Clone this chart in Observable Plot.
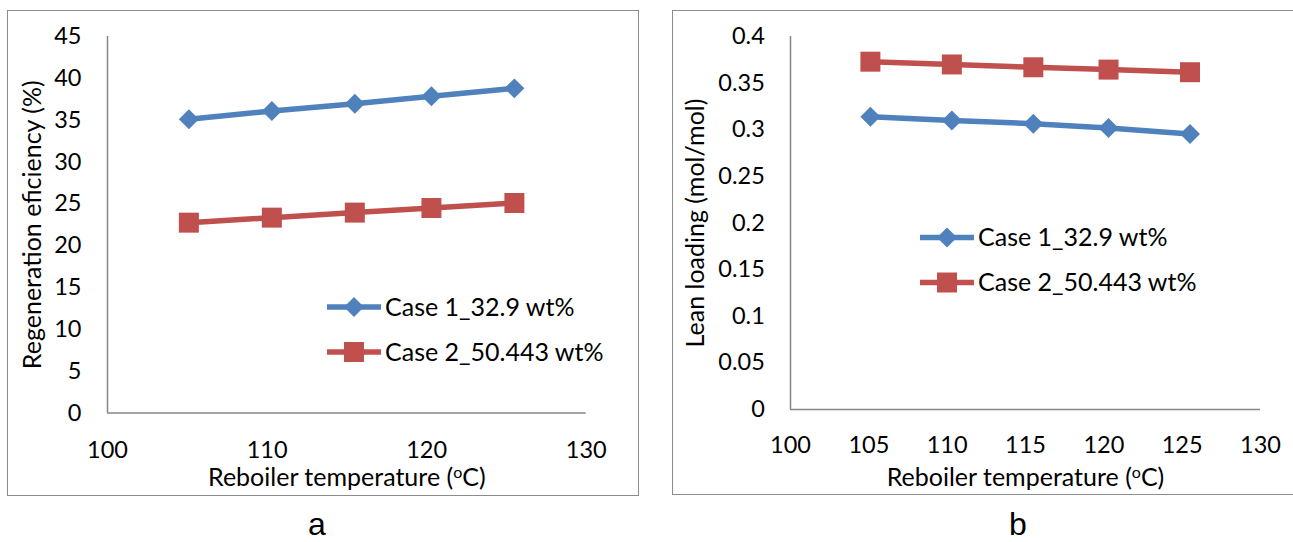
<!DOCTYPE html>
<html>
<head>
<meta charset="utf-8">
<script src="https://cdn.jsdelivr.net/npm/d3@7"></script>
<script src="https://cdn.jsdelivr.net/npm/@observablehq/plot@0.6"></script>
<style>
  html, body { margin: 0; padding: 0; background: #fff; }
  body { width: 1293px; height: 542px; position: relative; overflow: hidden; font-family: Lato, sans-serif; }
  .panel { position: absolute; box-sizing: border-box; border: 1.5px solid #8c8c8c; background: #fff; }
  .chart { position: absolute; top: 0; }
  .chart svg { max-width: none; overflow: visible; }
  .cap { position: absolute; font-family: "Liberation Sans", Arial, sans-serif; font-size: 32px; line-height: 26px; height: 26px; color: #000; width: 60px; text-align: center; }
</style>
</head>
<body>
<div class="panel" style="left:7px; top:10px; width:632px; height:486px;"></div>
<div class="panel" style="left:672px; top:10px; width:640px; height:485px;"></div>
<div id="chartA" class="chart" style="left:0px;"></div>
<div id="chartB" class="chart" style="left:650px;"></div>
<div class="cap" style="left:287px; top:511px;">a</div>
<div class="cap" style="left:988px; top:511px;">b</div>
<script>
// ---- data ----
const temps = [105.1, 110.3, 115.5, 120.3, 125.5];
const seriesNames = ["Case 1_32.9 wt%", "Case 2_50.443 wt%"];
const seriesColors = ["#4F81BD", "#C0504D"];
const effCase1 = [35.1, 36.1, 36.95, 37.85, 38.8];
const effCase2 = [22.75, 23.35, 23.95, 24.5, 25.1];
const leanCase1 = [0.314, 0.31, 0.3065, 0.302, 0.2955];
const leanCase2 = [0.373, 0.37, 0.367, 0.3645, 0.3617];
const xTicksA = [100, 110, 120, 130];
const xTicksB = [100, 105, 110, 115, 120, 125, 130];
const yTicksA = [0, 5, 10, 15, 20, 25, 30, 35, 40, 45];
const yTicksB = [0, 0.05, 0.1, 0.15, 0.2, 0.25, 0.3, 0.35, 0.4];
const xTitle = "Reboiler temperature (oC)";
const yTitleA = "Regeneration eficiency (%)";
const yTitleB = "Lean loading (mol/mol)";

function rowsOf(a, b) {
  const rows = [];
  temps.forEach((t, i) => rows.push({t, v: a[i], s: seriesNames[0]}));
  temps.forEach((t, i) => rows.push({t, v: b[i], s: seriesNames[1]}));
  return rows;
}

const axisGray = "#868686";
const fsTick = 23.5;
const fsTitle = 25;

function makeChart(opt) {
  const rows = rowsOf(opt.a, opt.b);
  const svg = Plot.plot({
    width: opt.width, height: 542,
    marginLeft: opt.ml, marginRight: opt.mr, marginTop: opt.mt, marginBottom: opt.mb,
    x: {domain: [100, 130], axis: null},
    y: {domain: opt.ydomain, axis: null},
    color: {domain: seriesNames, range: seriesColors},
    style: {fontFamily: "Lato, sans-serif", fontSize: fsTick + "px", background: "transparent", color: "#000", overflow: "visible"},
    marks: [
      Plot.ruleX([100], {stroke: axisGray, strokeWidth: 1.5}),
      Plot.ruleY([0], {stroke: axisGray, strokeWidth: 1.5}),
      Plot.axisX({ticks: opt.xticks, tickSize: 0, tickPadding: opt.xpad, label: null, fontSize: fsTick, fill: "#000", tickFormat: d => String(d)}),
      Plot.axisY({ticks: opt.yticks, tickSize: 0, tickPadding: opt.ypad, label: null, fontSize: fsTick, fill: "#000", tickFormat: d => String(+d.toFixed(2))}),
      Plot.line(rows, {x: "t", y: "v", z: "s", stroke: "s", strokeWidth: 5.5}),
      Plot.dot(rows.filter(d => d.s === seriesNames[0]), {x: "t", y: "v", symbol: "diamond2", r: 9.0, fill: "s", stroke: null}),
      Plot.dot(rows.filter(d => d.s === seriesNames[1]), {x: "t", y: "v", symbol: "square", r: 11.28, fill: "s", stroke: null}),
      Plot.text([opt.ytitle], {text: d => d, frameAnchor: "left", dx: opt.ytdx, rotate: -90, textAnchor: "middle", lineAnchor: "middle", fontSize: fsTitle, fill: "#000"}),
      Plot.text([xTitle], {text: d => d, frameAnchor: "bottom", dy: opt.xtdy, textAnchor: "middle", lineAnchor: "middle", fontSize: fsTitle, fill: "#000"})
    ]
  });
  // superscript "o" in the x title
  svg.querySelectorAll("text").forEach(t => {
    if (t.textContent === xTitle) {
      while (t.firstChild) t.removeChild(t.firstChild);
      const ns = "http://www.w3.org/2000/svg";
      t.appendChild(document.createTextNode("Reboiler temperature ("));
      const s1 = document.createElementNS(ns, "tspan");
      s1.setAttribute("dy", "-8"); s1.setAttribute("font-size", "16px"); s1.textContent = "o";
      const s2 = document.createElementNS(ns, "tspan");
      s2.setAttribute("dy", "8"); s2.textContent = "C)";
      t.appendChild(s1); t.appendChild(s2);
    }
  });
  // legend
  const g = d3.select(svg).append("g").attr("font-family", "Lato, sans-serif").attr("font-size", fsTitle).attr("text-anchor", "start");
  opt.legend.rows.forEach((ly, i) => {
    const lx = opt.legend.x;
    g.append("line").attr("x1", lx).attr("x2", lx + 54).attr("y1", ly).attr("y2", ly)
      .attr("stroke", seriesColors[i]).attr("stroke-width", 5.5);
    g.append("path")
      .attr("d", d3.symbol(i === 0 ? d3.symbolDiamond2 : d3.symbolSquare, i === 0 ? 255 : 400)())
      .attr("transform", `translate(${lx + 27},${ly})`).attr("fill", seriesColors[i]);
    g.append("text").attr("x", lx + 58).attr("y", ly).attr("dy", "0.34em").attr("text-anchor", "start").attr("fill", "#000").text(seriesNames[i]);
  });
  return svg;
}

document.getElementById("chartA").appendChild(makeChart({
  a: effCase1, b: effCase2, width: 650, ml: 107, mr: 64.3, mt: 36, mb: 129.5,
  ydomain: [0, 45], xticks: xTicksA, yticks: yTicksA, xpad: 28, ypad: 26,
  ytitle: yTitleA, ytdx: -75, xtdy: 64.5,
  legend: {x: 327, rows: [307, 352]}
}));

document.getElementById("chartB").appendChild(makeChart({
  a: leanCase1, b: leanCase2, width: 643, ml: 140, mr: 33, mt: 36, mb: 133,
  ydomain: [0, 0.4], xticks: xTicksB, yticks: yTicksB, xpad: 27, ypad: 25.7,
  ytitle: yTitleB, ytdx: -95, xtdy: 68,
  legend: {x: 270, rows: [237.6, 282.5]}
}));
</script>
</body>
</html>
